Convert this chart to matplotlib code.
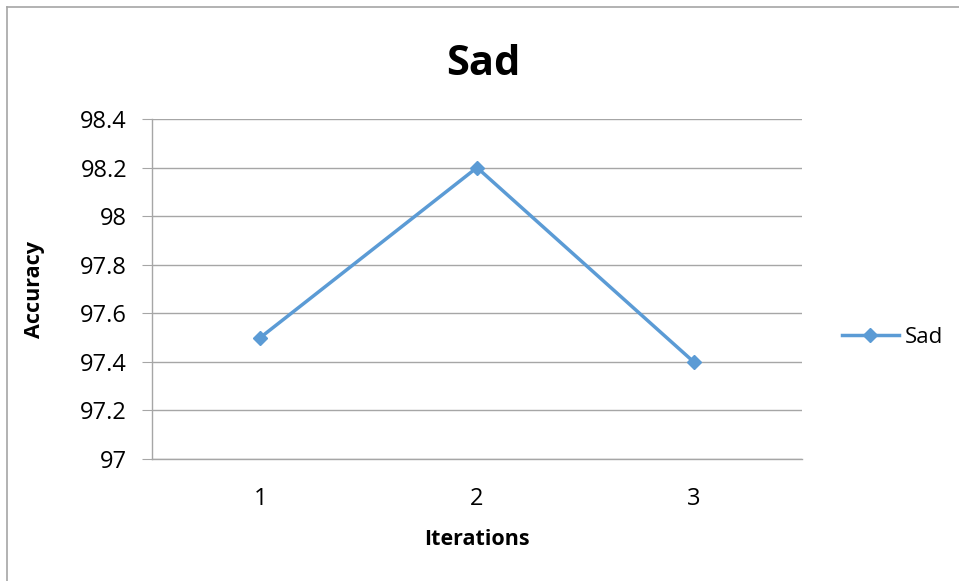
import matplotlib
matplotlib.use("Agg")
import matplotlib.pyplot as plt
from matplotlib.lines import Line2D

plt.rcParams['font.family'] = ['Open Sans', 'DejaVu Sans']

iterations = [1, 2, 3]
accuracy = [97.5, 98.2, 97.4]
y_ticks = [97, 97.2, 97.4, 97.6, 97.8, 98, 98.2, 98.4]
y_tick_labels = ['97', '97.2', '97.4', '97.6', '97.8', '98', '98.2', '98.4']

line_color = '#5B9BD5'
grid_color = '#A6A6A6'

fig = plt.figure(figsize=(9.59, 5.81), dpi=100)
ax = fig.add_axes([152 / 959, 1 - 459 / 581, 650 / 959, 340 / 581])

# chart frame (top and left edges)
fig.add_artist(Line2D([7 / 959, 7 / 959], [0, 1 - 7 / 581], transform=fig.transFigure,
                      color='#A6A6A6', lw=1.2))
fig.add_artist(Line2D([7 / 959, 1], [1 - 7 / 581, 1 - 7 / 581], transform=fig.transFigure,
                      color='#A6A6A6', lw=1.2))

ax.plot(iterations, accuracy, color=line_color, lw=2.5, marker='D', markersize=7,
        label='Sad', zorder=3)

ax.set_xlim(0.5, 3.5)
ax.set_ylim(97, 98.4)
ax.set_yticks(y_ticks)
ax.set_yticklabels(y_tick_labels)
ax.set_xticks(iterations)
ax.set_xticklabels([str(i) for i in iterations])

ax.grid(axis='y', color=grid_color, lw=1)
ax.set_axisbelow(True)
for side in ['top', 'right']:
    ax.spines[side].set_visible(False)
ax.spines['left'].set_color(grid_color)
ax.spines['bottom'].set_color(grid_color)
ax.spines['left'].set_linewidth(1)
ax.spines['bottom'].set_linewidth(1)

ax.tick_params(axis='y', length=7, color=grid_color, labelsize=17, pad=11)
ax.tick_params(axis='x', length=0, labelsize=17, pad=20)

ax.set_title('Sad', fontsize=30, fontweight='bold', pad=32, x=0.51)
ax.set_xlabel('Iterations', fontsize=15.5, fontweight='bold', labelpad=13)
ax.set_ylabel('Accuracy', fontsize=15.5, fontweight='bold', labelpad=25)

ax.legend(loc='center left', bbox_to_anchor=(1.03, 0.357), frameon=False,
          fontsize=16, handlelength=2.6, handletextpad=0.25)

fig.savefig('out.png', dpi=100)
